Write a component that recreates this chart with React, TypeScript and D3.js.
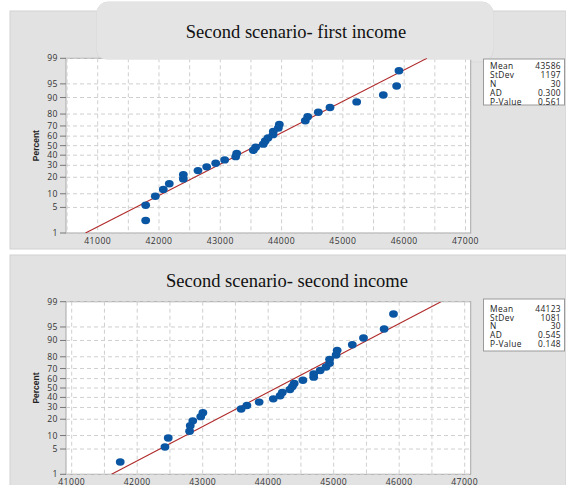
import React from 'react';
import * as d3 from 'd3';

// plotting positions (percent) shared by both samples, n = 30
const percents = [2.3, 5.6, 8.9, 12.2, 15.5, 18.8, 22.0, 25.3, 28.6, 31.9, 35.2, 38.5, 41.8, 45.1, 48.4,
  51.6, 54.9, 58.2, 61.5, 64.8, 68.1, 71.4, 74.7, 78.0, 81.3, 84.5, 87.8, 91.1, 94.4, 97.7];

const firstIncome = [41783, 41783, 41940, 42070, 42168, 42397, 42397, 42636, 42778, 42925, 43071, 43251,
  43268, 43539, 43577, 43701, 43733, 43778, 43860, 43865, 43947, 43963, 44387, 44426, 44599, 44790,
  45225, 45659, 45877, 45915];

const secondIncome = [41741, 42424, 42474, 42800, 42810, 42849, 42970, 43003, 43587, 43675, 43862, 44078,
  44182, 44216, 44332, 44370, 44397, 44530, 44695, 44695, 44794, 44883, 44937, 44937, 45037, 45053,
  45284, 45455, 45770, 45913];

const percentTicks = [1, 5, 10, 20, 30, 40, 50, 60, 70, 80, 90, 95, 99];
const xTicks = [41000, 42000, 43000, 44000, 45000, 46000, 47000];
const statLabels = ['Mean', 'StDev', 'N', 'AD', 'P-Value'];
const firstStats = ['43586', '1197', '30', '0.300', '0.561'];
const secondStats = ['44123', '1081', '30', '0.545', '0.148'];
const firstFit = {mean: 43586, sd: 1197};
const secondFit = {mean: 44123, sd: 1081};

// inverse normal cdf (Acklam)
function probit(p: number) {
  var a = [-39.69683028665376, 220.9460984245205, -275.9285104469687, 138.357751867269, -30.66479806614716, 2.506628277459239];
  var b = [-54.47609879822406, 161.5858368580409, -155.6989798598866, 66.80131188771972, -13.28068155288572];
  var c = [-0.007784894002430293, -0.3223964580411365, -2.400758277161838, -2.549732539343734, 4.374664141464968, 2.938163982698783];
  var d = [0.007784695709041462, 0.3224671290700398, 2.445134137142996, 3.754408661907416];
  var pl = 0.02425, q, r;
  if (p < pl) {
    q = Math.sqrt(-2 * Math.log(p));
    return (((((c[0] * q + c[1]) * q + c[2]) * q + c[3]) * q + c[4]) * q + c[5]) / ((((d[0] * q + d[1]) * q + d[2]) * q + d[3]) * q + 1);
  }
  if (p > 1 - pl) {
    q = Math.sqrt(-2 * Math.log(1 - p));
    return -(((((c[0] * q + c[1]) * q + c[2]) * q + c[3]) * q + c[4]) * q + c[5]) / ((((d[0] * q + d[1]) * q + d[2]) * q + d[3]) * q + 1);
  }
  q = p - 0.5;
  r = q * q;
  return (((((a[0] * r + a[1]) * r + a[2]) * r + a[3]) * r + a[4]) * r + a[5]) * q / (((((b[0] * r + b[1]) * r + b[2]) * r + b[3]) * r + b[4]) * r + 1);
}

const tickFont = '"Open Sans", "Noto Sans", sans-serif';

function Panel(props: any) {
  var p = props;
  var id = p.id;
  var x = d3.scaleLinear().domain(p.xDomain).range([p.left, p.right]);
  var y = d3.scaleLinear().domain([probit(0.01), probit(0.99)]).range([p.bottom, p.top]);
  var yp = (v: number) => y(probit(v / 100));

  var grid = d3.range(Math.ceil(p.xDomain[0] / 500) * 500, p.xDomain[1], 500);
  var fit = d3.line<number>()
    .x(v => x(p.fit.mean + probit(v / 100) * p.fit.sd))
    .y(v => yp(v));

  return (
    <g>
      <rect x={10} y={p.bgTop} width={556} height={p.bgHeight} fill="#e2e2e2" stroke="#d2d2d2" />
      {p.tab && <rect x={97} y={2} width={396} height={60} rx={11} fill="#e4e4e4" stroke="#d9d9d9" />}
      <rect x={p.left} y={p.top} width={p.right - p.left} height={p.bottom - p.top} fill="#fff" stroke="#a8a8a8" />
      <clipPath id={'clip' + id}>
        <rect x={p.left} y={p.top} width={p.right - p.left} height={p.bottom - p.top} />
      </clipPath>
      <g stroke="#cfcfcf" strokeDasharray="4,3" strokeWidth={1}>
        {grid.map(g => <line key={'v' + g} x1={x(g)} x2={x(g)} y1={p.top} y2={p.bottom} />)}
        {percentTicks.map(t => <line key={'h' + t} x1={p.left} x2={p.right} y1={yp(t)} y2={yp(t)} />)}
      </g>
      {p.tab && <rect x={97} y={2} width={396} height={p.top + 1.5 - 2} rx={11} fill="#e4e4e4" />}
      <g fontFamily={tickFont} fontSize={8.6} fill="#333" letterSpacing={0.5}>
        {percentTicks.map(t => (
          <g key={'yt' + t}>
            <line x1={p.left - 6} x2={p.left} y1={yp(t)} y2={yp(t)} stroke="#777" />
            <text x={p.left - 8} y={yp(t)} dy="0.35em" textAnchor="end">{t}</text>
          </g>
        ))}
        {xTicks.map(t => (
          <text key={'xt' + t} x={x(t)} y={p.bottom + 10.5} textAnchor="middle">{t}</text>
        ))}
      </g>
      <text transform={'translate(' + 39 + ',' + ((p.top + p.bottom) / 2) + ') rotate(-90)'} textAnchor="middle"
        fontFamily='"Liberation Sans", Arial, sans-serif' fontWeight="bold" fontSize={8.5} fill="#222">Percent</text>
      <g clipPath={'url(#clip' + id + ')'}>
        <path d={fit([1, 99]) || ''} fill="none" stroke="#b02a2a" strokeWidth={1.1} />
      </g>
      {p.values.map((v: number, i: number) => (
        <ellipse key={'pt' + i} cx={x(v)} cy={yp(percents[i])} rx={4.4} ry={3.7} fill="#0b56a3" />
      ))}
      <text x={p.titleX} y={p.titleY} textAnchor="middle" fontFamily='"Liberation Serif", "Times New Roman", serif'
        fontSize={18.5} fill="#111">{p.title}</text>
      <rect x={483.5} y={p.boxTop} width={81} height={p.boxHeight} fill="#fff" stroke="#9a9a9a" />
      <g fontFamily={tickFont} fontSize={8.4} fill="#222" letterSpacing={0.35}>
        {statLabels.map((s, i) => (
          <g key={'st' + s}>
            <text x={490} y={p.rowY + i * p.rowStep}>{s}</text>
            <text x={561} y={p.rowY + i * p.rowStep} textAnchor="end">{p.stats[i]}</text>
          </g>
        ))}
      </g>
    </g>
  );
}

export default function App() {
  return (
    <svg width={566} height={485} style={{position: 'absolute', left: 0, top: 0, background: '#fff'}}>
      <Panel id="a" title="Second scenario- first income" values={firstIncome} fit={firstFit} stats={firstStats}
        xDomain={[40483, 47085]} left={66} right={470.7} top={58.3} bottom={233}
        bgTop={11} bgHeight={238} tab={true} titleX={296} titleY={37.5}
        boxTop={59} boxHeight={46} rowY={68.7} rowStep={9} />
      <Panel id="b" title="Second scenario- second income" values={secondIncome} fit={secondFit} stats={secondStats}
        xDomain={[40913, 47092]} left={66} right={470.7} top={301.7} bottom={474.3}
        bgTop={255} bgHeight={240} tab={false} titleX={287} titleY={286.7}
        boxTop={299} boxHeight={52} rowY={312} rowStep={8.7} />
    </svg>
  );
}
